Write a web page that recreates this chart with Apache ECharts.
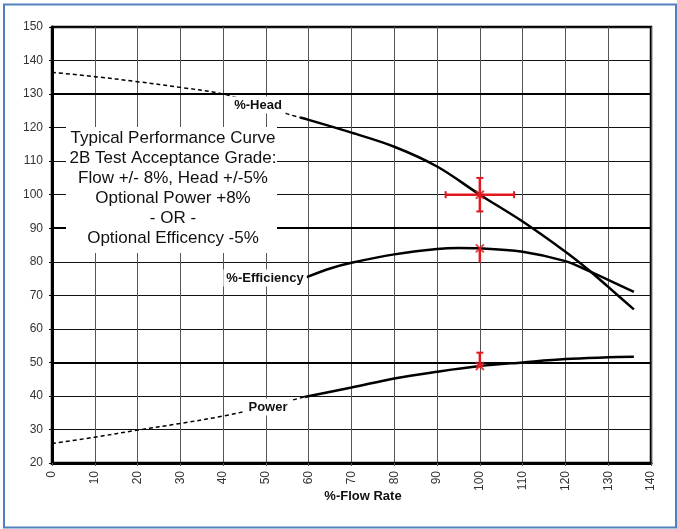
<!DOCTYPE html>
<html>
<head>
<meta charset="utf-8">
<script src="https://cdn.jsdelivr.net/npm/echarts@6/dist/echarts.min.js"></script>
<style>
html,body{margin:0;padding:0;background:#fff;}
#chart{width:677px;height:529px;}
</style>
</head>
<body>
<div id="chart"></div>
<script>
// ---- data ----
const headDashFlow = [0, 10, 20, 30, 40, 50, 55, 58];
const headDashVal  = [136.5, 135.2, 133.7, 132, 130, 126.3, 124.1, 123];
const headFlow = [58, 60, 70, 80, 90, 100, 110, 120, 125, 130, 136];
const headVal  = [123, 122.3, 118.5, 114.3, 108.4, 100, 92, 83, 78, 72.5, 65.8];
const effFlow = [59.5, 65, 70, 80, 90, 95, 100, 110, 120, 125, 130, 136];
const effVal  = [75.4, 78, 79.7, 82.2, 83.8, 84.1, 84, 83, 80.2, 77.5, 74.6, 71];
const powerDashFlow = [0, 10, 20, 30, 40, 50, 59];
const powerDashVal  = [25.8, 27.7, 29.8, 31.8, 34, 36.8, 39.7];
const powerFlow = [59, 70, 80, 90, 100, 110, 120, 130, 136];
const powerVal  = [39.7, 42.5, 45.2, 47.2, 48.9, 50, 51, 51.5, 51.7];

// test point & tolerance bands
const testFlow = 100;
const flowTolRange = [92, 108];
const headPoint = 100;
const headTolRange = [95, 105];
const effPoint = 84;
const effTolRange = [84, 79.8];
const powerPoint = 48.9;
const powerTolRange = [48.9, 52.9];

const majorGridVals = [50, 90, 130];
const noteLines = ['Typical Performance Curve', '2B Test Acceptance Grade:', 'Flow +/- 8%, Head +/-5%', 'Optional Power +8%', '- OR -', 'Optional Efficency -5%'];

const zip = (xs, ys) => xs.map((x, i) => [x, ys[i]]);
const FONT = '"Liberation Sans", Arial, sans-serif';
const RED = '#e0191f';

const chart = echarts.init(document.getElementById('chart'));
const curveBase = {type: 'line', showSymbol: false, symbol: 'none', smooth: 0.35, silent: true, z: 5};

chart.setOption({
  animation: false,
  backgroundColor: '#fff',
  grid: {left: 52, right: 26, top: 27, bottom: 66, show: true, borderColor: '#000', borderWidth: 2.5, backgroundColor: 'transparent'},
  xAxis: {
    type: 'value', min: 0, max: 140, interval: 10,
    axisLine: {show: true, onZero: false, lineStyle: {color: '#000', width: 3}},
    axisTick: {show: true, length: 3, lineStyle: {color: '#555'}},
    axisLabel: {rotate: 90, margin: 8, fontSize: 12, color: '#333', fontFamily: FONT},
    splitLine: {show: true, lineStyle: {color: '#555', width: 1}}
  },
  yAxis: {
    type: 'value', min: 20, max: 150, interval: 10,
    axisLine: {show: true, onZero: false, lineStyle: {color: '#000', width: 3}},
    axisTick: {show: true, length: 3, lineStyle: {color: '#000'}},
    axisLabel: {margin: 9, fontSize: 12, color: '#333', fontFamily: FONT},
    splitLine: {show: true, lineStyle: {color: '#111', width: 1}}
  },
  series: [
    Object.assign({}, curveBase, {name: 'headDash', data: zip(headDashFlow, headDashVal), lineStyle: {color: '#000', width: 1.5, type: [4, 3]},
      markLine: {silent: true, symbol: 'none', label: {show: false}, lineStyle: {color: '#000', width: 2, type: 'solid'}, data: majorGridVals.map(v => ({yAxis: v})), z: 2}}),
    Object.assign({}, curveBase, {name: 'head', data: zip(headFlow, headVal), lineStyle: {color: '#000', width: 2.5}}),
    Object.assign({}, curveBase, {name: 'eff', data: zip(effFlow, effVal), lineStyle: {color: '#000', width: 2.5}}),
    Object.assign({}, curveBase, {name: 'powerDash', data: zip(powerDashFlow, powerDashVal), lineStyle: {color: '#000', width: 1.5, type: [4, 3]}}),
    Object.assign({}, curveBase, {name: 'power', data: zip(powerFlow, powerVal), lineStyle: {color: '#000', width: 2.5}}),
    // tolerance bars
    {type: 'line', silent: true, z: 8, smooth: false, data: flowTolRange.map(f => [f, headPoint]), symbol: 'rect', symbolSize: [2, 7], itemStyle: {color: RED}, lineStyle: {color: RED, width: 2.5}},
    {type: 'line', silent: true, z: 8, smooth: false, data: headTolRange.map(h => [testFlow, h]), symbol: 'rect', symbolSize: [7, 2], itemStyle: {color: RED}, lineStyle: {color: RED, width: 2.5}},
    {type: 'line', silent: true, z: 8, smooth: false, data: effTolRange.map(e => [testFlow, e]), symbol: 'none', lineStyle: {color: RED, width: 2.5}},
    {type: 'line', silent: true, z: 8, smooth: false, data: powerTolRange.map(p => [testFlow, p]), symbol: 'rect', symbolSize: [7, 2], showSymbol: true,
      itemStyle: {color: RED}, lineStyle: {color: RED, width: 2.5}},
    {type: 'scatter', silent: true, z: 9, data: [[testFlow, headPoint], [testFlow, effPoint], [testFlow, powerPoint]],
      symbol: 'path://M0,0L10,10M10,0L0,10', symbolSize: 8, itemStyle: {color: 'rgba(0,0,0,0)', borderColor: RED, borderWidth: 2}}
  ],
  graphic: [
    {type: 'rect', z: 100, shape: {x: 4, y: 4.5, width: 672, height: 523}, style: {fill: 'none', stroke: '#4f81bd', lineWidth: 2}},
    {type: 'rect', z: 50, shape: {x: 66, y: 127, width: 211, height: 126}, style: {fill: '#fff'}},
    {type: 'text', z: 51, x: 173, y: 128.5, style: {text: noteLines.join('\n'), font: '17px ' + FONT, lineHeight: 20, fill: '#111', align: 'center', verticalAlign: 'top'}},
    {type: 'text', z: 51, x: 258, y: 105, style: {text: '%-Head', font: 'bold 13px ' + FONT, fill: '#111', align: 'center', verticalAlign: 'middle', backgroundColor: '#fff', padding: [2, 3]}},
    {type: 'text', z: 51, x: 265, y: 278, style: {text: '%-Efficiency', font: 'bold 13px ' + FONT, fill: '#111', align: 'center', verticalAlign: 'middle', backgroundColor: '#fff', padding: [2, 3]}},
    {type: 'text', z: 51, x: 268, y: 407, style: {text: 'Power', font: 'bold 13px ' + FONT, fill: '#111', align: 'center', verticalAlign: 'middle', backgroundColor: '#fff', padding: [2, 4]}},
    {type: 'text', z: 51, x: 363, y: 496, style: {text: '%-Flow Rate', font: 'bold 13px ' + FONT, fill: '#111', align: 'center', verticalAlign: 'middle'}}
  ]
});
</script>
</body>
</html>
